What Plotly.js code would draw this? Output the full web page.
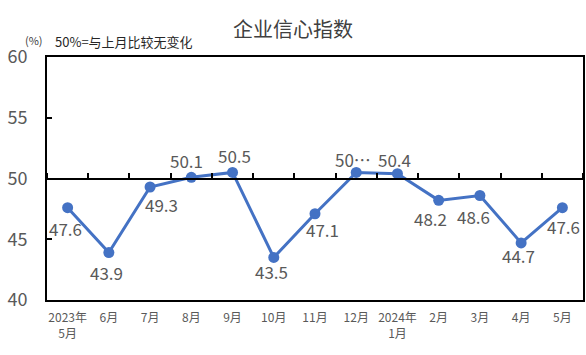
<!DOCTYPE html>
<html>
<head>
<meta charset="utf-8">
<script src="https://cdn.plot.ly/plotly-3.0.1.min.js"></script>
<style>html,body{margin:0;padding:0;background:#fff;}#chart{width:586px;height:355px;}</style>
</head>
<body>
<div id="chart"></div>
<script>
const categories = ['2023年<br>5月','6月','7月','8月','9月','10月','11月','12月','2024年<br>1月','2月','3月','4月','5月'];
const values = [47.6, 43.9, 49.3, 50.1, 50.5, 43.5, 47.1, 50.5, 50.4, 48.2, 48.6, 44.7, 47.6];
const pointLabels = ['47.6','43.9','49.3','50.1','50.5','43.5','47.1','50…','50.4','48.2','48.6','44.7','47.6'];
const yTicks = [40, 45, 50, 55, 60];

// label offsets in pixels (style only)
const labelDx = [-2, -2, 11, -5, 2, -2, 7, -3, -3, -8, -6, -3, 1];
const labelDy = [21, 20, 17, -17, -17, 14, 16, -13, -14, 18, 21, 13, 19];
const FONT = '"Noto Sans CJK SC", "Noto Sans", sans-serif';

const trace = {
  type: 'scatter',
  mode: 'lines+markers',
  x: categories,
  y: values,
  line: {color: '#4472C4', width: 3},
  marker: {color: '#4472C4', size: 11},
  cliponaxis: false,
  hoverinfo: 'skip',
  showlegend: false
};

// invisible trace to bind the secondary x axis (the 50 line with boundary ticks)
const trace2 = {
  type: 'scatter', mode: 'none',
  x: categories, y: values, xaxis: 'x2', yaxis: 'y',
  hoverinfo: 'skip', showlegend: false
};

const dataAnnotations = categories.map((c, i) => ({
  xref: 'x', yref: 'y', x: c, y: values[i],
  text: pointLabels[i], showarrow: false,
  xanchor: 'center', yanchor: 'middle',
  xshift: labelDx[i], yshift: -labelDy[i],
  font: {family: FONT, size: 17, color: '#595959'}
}));

const layout = {
  width: 586, height: 355,
  margin: {l: 47, r: 3, t: 57, b: 55},
  paper_bgcolor: '#ffffff', plot_bgcolor: '#ffffff',
  font: {family: FONT, color: '#595959'},
  title: {text: '企业信心指数', font: {family: FONT, size: 20, color: '#404040'}, x: 0.5, xanchor: 'center', y: 0.915, yanchor: 'middle'},
  xaxis: {
    type: 'category',
    range: [-0.5, categories.length - 0.5],
    showline: true, linecolor: '#000', linewidth: 2, mirror: true,
    ticks: '', showgrid: false, zeroline: false,
    tickfont: {family: FONT, size: 12, color: '#595959'},
    ticklabelstandoff: 6
  },
  xaxis2: {
    type: 'category', overlaying: 'x', anchor: 'free', position: 0.5, side: 'top',
    range: [-0.5, categories.length - 0.5],
    showline: true, linecolor: '#000', linewidth: 2,
    ticks: 'outside', tickson: 'boundaries', ticklen: 5, tickwidth: 2, tickcolor: '#000',
    showticklabels: false, showgrid: false, zeroline: false
  },
  yaxis: {
    range: [40, 60], tickvals: yTicks, ticktext: yTicks.map(String),
    showline: true, linecolor: '#000', linewidth: 2, mirror: true,
    ticks: 'inside', ticklen: 5, tickwidth: 2, tickcolor: '#000',
    showgrid: false, zeroline: false,
    tickfont: {family: FONT, size: 18, color: '#595959'},
    ticklabelstandoff: 14
  },
  annotations: dataAnnotations.concat([
    {xref: 'paper', yref: 'paper', x: -0.045, y: 1.03, xanchor: 'left', yanchor: 'bottom',
     text: '(%)', showarrow: false, font: {family: FONT, size: 11, color: '#404040'}},
    {xref: 'paper', yref: 'paper', x: 0.012, y: 1.015, xanchor: 'left', yanchor: 'bottom',
     text: '50%=与上月比较无变化', showarrow: false, font: {family: FONT, size: 13, color: '#262626'}}
  ])
};

Plotly.newPlot('chart', [trace, trace2], layout, {displayModeBar: false, staticPlot: true});
</script>
</body>
</html>
